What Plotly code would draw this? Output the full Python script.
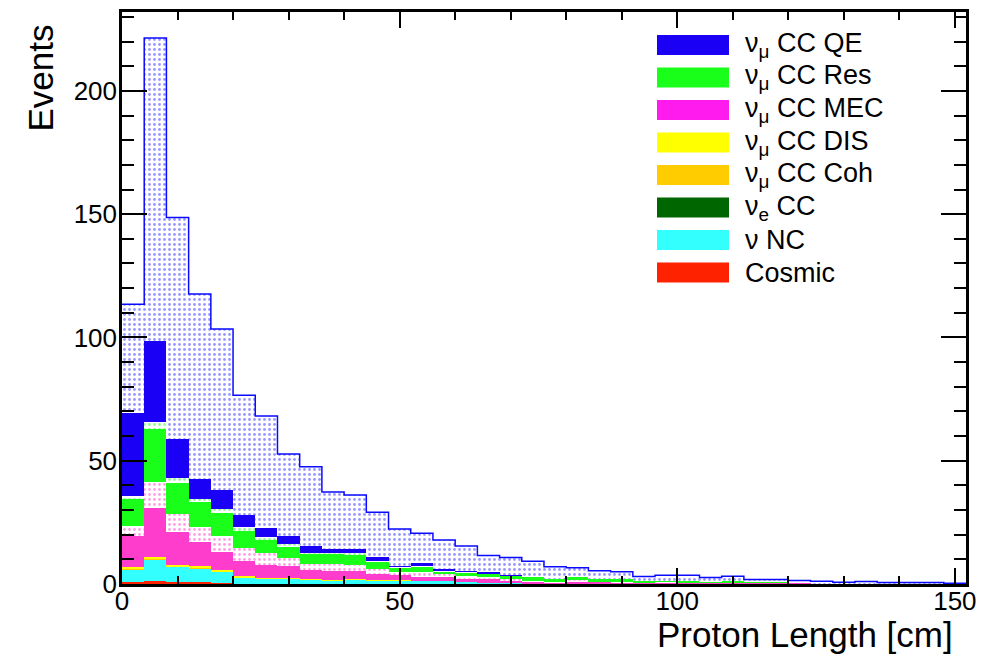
import plotly.graph_objects as go

# ---------------- data (38 bins of 4 cm, 0-152 cm) ----------------
bin_width = 4
bin_low = [0, 4, 8, 12, 16, 20, 24, 28, 32, 36, 40, 44, 48, 52, 56, 60, 64, 68, 72, 76,
           80, 84, 88, 92, 96, 100, 104, 108, 112, 116, 120, 124, 128, 132, 136, 140, 144, 148]

cosmic = [1.0, 1.4, 0.9, 0.7, 0.3, 0, 0, 0, 0, 0, 0, 0, 0, 0, 0, 0, 0, 0, 0, 0,
          0, 0, 0, 0, 0, 0, 0, 0, 0, 0, 0, 0, 0, 0, 0, 0, 0, 0]
nu_nc = [4.9, 8.6, 6.0, 5.5, 4.8, 2.7, 2.1, 2.4, 1.8, 1.5, 1.7, 1.5, 1.3, 1.2, 1.2, 0.9, 0.5, 0.3, 0.2, 0.1,
         0.1, 0.1, 0, 0, 0, 0, 0, 0, 0, 0, 0, 0, 0, 0, 0, 0, 0, 0]
nue_cc = [0, 0, 0, 0, 0, 0, 0, 0, 0, 0, 0, 0, 0, 0, 0, 0, 0, 0, 0, 0,
          0, 0, 0, 0, 0, 0, 0, 0, 0, 0, 0, 0, 0, 0, 0, 0, 0, 0]
numu_coh = [0.2, 0.2, 0.2, 0.2, 0.1, 0.1, 0, 0, 0, 0, 0, 0, 0.2, 0, 0, 0, 0, 0, 0, 0,
            0, 0, 0, 0, 0, 0, 0, 0, 0, 0, 0, 0, 0, 0, 0, 0, 0, 0]
numu_dis = [0.7, 0.6, 0.6, 0.9, 0.5, 0.4, 0.2, 0.2, 0.2, 0.1, 0.2, 0.1, 0.1, 0, 0, 0, 0, 0, 0, 0,
            0, 0, 0, 0, 0, 0, 0, 0, 0, 0, 0, 0, 0, 0, 0, 0, 0, 0]
numu_mec = [12.8, 19.9, 13.3, 9.6, 7.4, 6.1, 5.4, 4.8, 3.7, 3.8, 3.5, 2.5, 2.0, 1.8, 1.8, 1.5, 1.7, 1.0, 0.8, 0.7,
            1.1, 0.8, 0.8, 0.6, 0.6, 0.6, 0.5, 0.5, 0.5, 0.5, 0.5, 0.4, 0.3, 0.3, 0.3, 0.3, 0.3, 0.2]
numu_mec_dot = [4.1, 10.5, 7.4, 6.4, 6.5, 5.2, 4.7, 3.0, 2.3, 2.7, 2.3, 2.0, 1.1, 1.7, 0.9, 0.8, 0.8, 0.6, 0.4, 0.4,
                0.4, 0.3, 0.4, 0.2, 0.3, 0.2, 0.2, 0.3, 0, 0, 0, 0, 0, 0, 0, 0, 0, 0]
numu_res = [10.8, 21.7, 12.4, 9.8, 9.1, 7.1, 5.7, 4.7, 4.3, 4.1, 4.2, 3.0, 2.0, 2.3, 1.3, 1.5, 1.1, 1.5, 1.3, 0.7,
            1.1, 0.7, 0.7, 0.3, 0.4, 0.4, 0.3, 0.3, 0.2, 0.2, 0.1, 0, 0, 0, 0, 0, 0, 0]
numu_res_dot = [1.3, 2.7, 2.1, 1.4, 1.6, 1.4, 0.8, 1.1, 0.4, 0.5, 0.5, 0.4, 0.2, 0.3, 0.2, 0.2, 0.2, 0.1, 0, 0,
                0, 0, 0, 0, 0, 0, 0, 0, 0, 0, 0, 0, 0, 0, 0, 0, 0, 0]
numu_qe = [33.4, 33.1, 15.9, 8.1, 7.8, 5.0, 3.8, 3.3, 2.7, 1.5, 1.8, 1.4, 0.5, 1.1, 0.7, 0.5, 0.7, 0.1, 0, 0,
           0, 0, 0, 0, 0, 0, 0, 0, 0, 0, 0, 0, 0, 0, 0, 0, 0, 0]
numu_qe_dot = [44.3, 122.8, 89.9, 75.0, 65.3, 48.6, 45.4, 33.2, 32.2, 23.1, 21.9, 18.2, 14.9, 12.2, 11.7, 10.0, 6.6, 7.1, 6.5, 5.1,
               3.9, 3.5, 3.1, 1.9, 2.2, 2.3, 1.6, 2.0, 1.1, 1.1, 0.8, 0.7, 0.4, 0.7, 0.3, 0.3, 0.3, 0.1]

legend_labels = ["ν<sub>μ</sub> CC QE", "ν<sub>μ</sub> CC Res", "ν<sub>μ</sub> CC MEC", "ν<sub>μ</sub> CC DIS",
                 "ν<sub>μ</sub> CC Coh", "ν<sub>e</sub> CC", "ν NC", "Cosmic"]
legend_colors = ["#1a00f5", "#1aff1a", "#ff1aee", "#ffff00", "#ffcc00", "#006600", "#33ffff", "#ff2200"]

x_title = "Proton Length [cm]"
y_title = "Events"

# ---------------- figure ----------------
FONT = "Liberation Sans, Arial, Helvetica, sans-serif"
W, H = 999, 654
L, R, T, B = 122, 33, 12, 70
PW, PH = W - L - R, H - T - B


def px_x(p):
    return (p - L) / PW


def px_y(p):
    return (H - B - p) / PH


centers = [b + bin_width / 2 for b in bin_low]

layers = [
    (cosmic, "#ff2200", None),
    (nu_nc, "#33ffff", None),
    (nue_cc, "#006600", None),
    (numu_coh, "#ffcc00", None),
    (numu_dis, "#ffff00", None),
    (numu_mec, "#ff3dcc", None),
    (numu_mec_dot, "white", "#ff3dcc"),
    (numu_res, "#1aff1a", None),
    (numu_res_dot, "white", "#1aff1a"),
    (numu_qe, "#1a00f5", None),
    (numu_qe_dot, "white", "#3030ff"),
]

fig = go.Figure()
for vals, col, dotcol in layers:
    marker = dict(color=col, line=dict(width=0))
    if dotcol is not None:
        marker["pattern"] = dict(shape=".", fgcolor=dotcol, bgcolor="white", size=5, solidity=0.25)
    fig.add_trace(go.Bar(x=centers, y=vals, width=bin_width, marker=marker,
                         showlegend=False, hoverinfo="skip"))

# outline of the total (step line)
totals = [sum(v) for v in zip(*[l[0] for l in layers])]
edges = bin_low + [bin_low[-1] + bin_width]
fig.add_trace(go.Scatter(x=edges, y=totals + [totals[-1]], mode="lines",
                         line=dict(color="#0a0aff", width=1.5, shape="hv"),
                         showlegend=False, hoverinfo="skip"))

axis_common = dict(showline=True, linecolor="black", linewidth=2.5, mirror="ticks",
                   ticks="inside", tickcolor="black", tickwidth=2, showgrid=False, zeroline=False,
                   tickfont=dict(family=FONT, size=26, color="black"))

fig.update_xaxes(range=[0, 152], tick0=0, dtick=50, ticklen=16, ticklabelstandoff=-8,
                 minor=dict(ticks="inside", dtick=10, ticklen=8, tickwidth=2, tickcolor="black"),
                 **axis_common)
fig.update_yaxes(range=[0, 232], tick0=0, dtick=50, ticklen=25, ticklabelstandoff=-3,
                 minor=dict(ticks="inside", dtick=10, ticklen=12, tickwidth=2, tickcolor="black"),
                 **axis_common)

annotations = [
    dict(text=x_title, x=px_x(955), y=px_y(634), xref="paper", yref="paper",
         xanchor="right", yanchor="middle", showarrow=False,
         font=dict(family=FONT, size=35, color="black")),
    dict(text=y_title, x=px_x(40), y=px_y(23), xref="paper", yref="paper",
         xanchor="center", yanchor="top", textangle=-90, showarrow=False,
         font=dict(family=FONT, size=35, color="black")),
]
shapes = []
for i, (lab, col) in enumerate(zip(legend_labels, legend_colors)):
    yc = 45 + 32.5 * i
    shapes.append(dict(type="rect", xref="paper", yref="paper",
                       x0=px_x(657), x1=px_x(729), y0=px_y(yc + 10), y1=px_y(yc - 10),
                       fillcolor=col, line=dict(width=0), layer="above"))
    annotations.append(dict(text=lab, x=px_x(743), y=px_y(yc), xref="paper", yref="paper",
                            xanchor="left", yanchor="middle", showarrow=False,
                            font=dict(family=FONT, size=27, color="black")))

fig.update_layout(width=W, height=H, margin=dict(l=L, r=R, t=T, b=B, autoexpand=False),
                  paper_bgcolor="white", plot_bgcolor="white", barmode="stack", bargap=0,
                  showlegend=False, annotations=annotations, shapes=shapes)

fig.write_html("out.html")
